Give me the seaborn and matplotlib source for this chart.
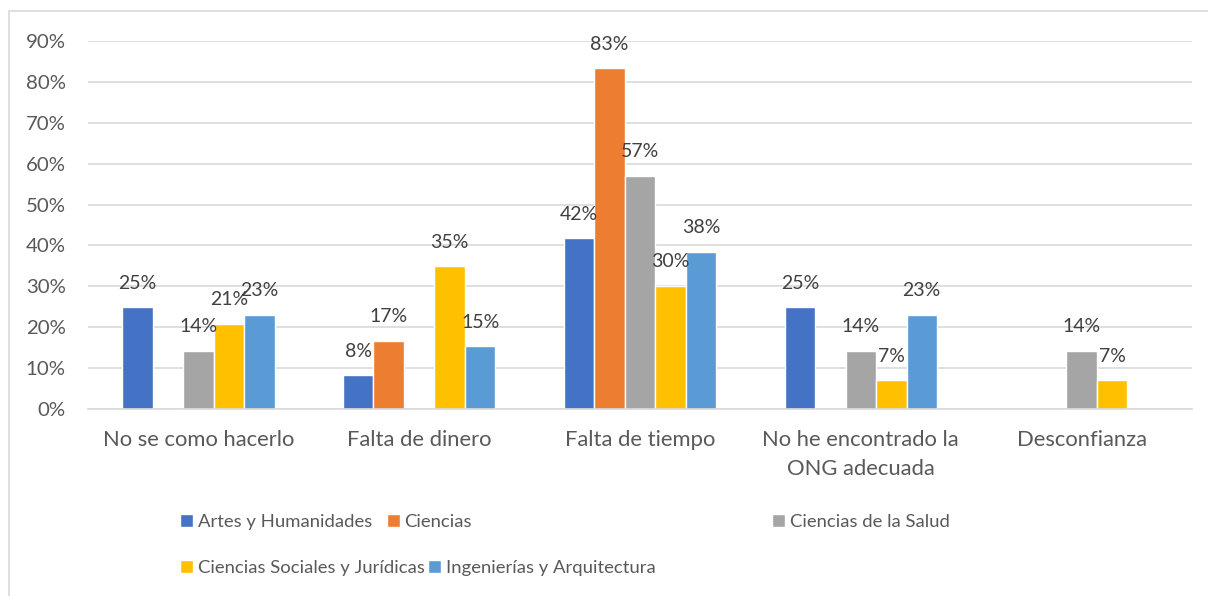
import numpy as np
import pandas as pd
import matplotlib
matplotlib.use('Agg')
import matplotlib.pyplot as plt
from matplotlib.patches import Rectangle
from matplotlib.ticker import PercentFormatter
import seaborn as sns

# --- data ---
categories = ['No se como hacerlo', 'Falta de dinero', 'Falta de tiempo',
              'No he encontrado la\nONG adecuada', 'Desconfianza']
series_names = ['Artes y Humanidades', 'Ciencias', 'Ciencias de la Salud',
                'Ciencias Sociales y Jurídicas', 'Ingenierías y Arquitectura']
artes = [0.25, 0.083, 0.417, 0.25, np.nan]
ciencias = [np.nan, 0.167, 0.833, np.nan, np.nan]
salud = [0.143, np.nan, 0.571, 0.143, 0.143]
sociales = [0.209, 0.349, 0.302, 0.070, 0.070]
ingenierias = [0.231, 0.154, 0.385, 0.231, np.nan]
colors = ['#4472C4', '#ED7D31', '#A5A5A5', '#FFC000', '#5B9BD5']

values = [artes, ciencias, salud, sociales, ingenierias]
df = pd.DataFrame({
    'Motivo': np.tile(categories, len(series_names)),
    'Rama': np.repeat(series_names, len(categories)),
    'Valor': np.concatenate(values),
})

sns.set_style('white')
plt.rcParams['font.family'] = ['Lato', 'DejaVu Sans']
text_col = '#595959'

fig = plt.figure(figsize=(12.08, 5.96), dpi=100)
ax = fig.add_axes([88 / 1208, 1 - 409 / 596, (1192 - 88) / 1208, (409 - 41) / 596])

sns.barplot(data=df, x='Motivo', y='Valor', hue='Rama', order=categories,
            hue_order=series_names, palette=colors, width=0.69, ax=ax,
            saturation=1, errorbar=None, legend=False)

for cont in ax.containers:
    labels = ['' if np.isnan(v) else f'{v:.0%}' for v in cont.datavalues]
    ax.bar_label(cont, labels=labels, padding=11, fontsize=14, color='#404040')

ax.set_ylim(0, 0.9)
ax.set_yticks(np.arange(0, 0.91, 0.1))
ax.yaxis.set_major_formatter(PercentFormatter(1.0, decimals=0))
ax.grid(axis='y', color='#D9D9D9', linewidth=1.2)
ax.set_axisbelow(True)
for s in ['top', 'right', 'left']:
    ax.spines[s].set_visible(False)
ax.spines['bottom'].set_color('#D9D9D9')
ax.spines['bottom'].set_linewidth(1.2)
ax.tick_params(axis='y', length=0, pad=16, labelsize=14.7, labelcolor=text_col)
ax.tick_params(axis='x', length=0, pad=15, labelsize=15.8, labelcolor=text_col)
for lbl in ax.get_xticklabels():
    lbl.set_linespacing(1.55)
ax.set_xlabel('')
ax.set_ylabel('')

# legend entries placed like the Excel legend
legend_pos = [(180, 522), (387, 522), (772, 522), (180, 568), (428, 568)]
for name, col, (px, py) in zip(series_names, colors, legend_pos):
    h = Rectangle((0, 0), 1, 1, facecolor=col)
    fig.legend([h], [name], loc='center left',
               bbox_to_anchor=(px / 1208, 1 - py / 596), frameon=False,
               borderpad=0, borderaxespad=0, handlelength=0.7,
               handleheight=0.7, handletextpad=0.25, fontsize=13.3,
               labelcolor=text_col)

# outer chart frame
fig.patches.append(Rectangle((8.5 / 1208, -0.1), 1.2, 1 - 11 / 596 + 0.1,
                             transform=fig.transFigure, fill=False,
                             edgecolor='#D9D9D9', linewidth=1.2))

fig.savefig('out.png', dpi=100)
